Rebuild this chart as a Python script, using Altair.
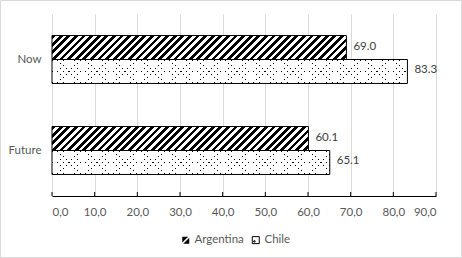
import altair as alt
import pandas as pd

periods = ["Now", "Future"]
series_names = ["Argentina", "Chile"]
argentina_values = [69.0, 60.1]
chile_values = [83.3, 65.1]
x_ticks = [0, 10, 20, 30, 40, 50, 60, 70, 80, 90]

df = pd.DataFrame({
    "period": periods * 2,
    "series": ["Argentina"] * len(periods) + ["Chile"] * len(periods),
    "value": argentina_values + chile_values,
})
df["key"] = df["period"] + "|" + df["series"]

PLOT_W, PLOT_H = 384, 182
X_MAX = 90
PAD_IN = 0.473
PAD_OUT = PAD_IN / 2
step = PLOT_H / (len(periods) - PAD_IN + 2 * PAD_OUT)
BAR_H = step * (1 - PAD_IN) / len(series_names)
FONT = "Lato"
GRAY = "#595959"


def stripe_gradient(W, H, period, width, ink, paper, direction, phase=0.0):
    L = W + H
    stops = [{"offset": 0, "color": paper}]
    c = phase
    while c - width / 2 <= L:
        a = min(max((c - width / 2) / L, 0), 1)
        b = min(max((c + width / 2) / L, 0), 1)
        if b > a:
            stops += [
                {"offset": a, "color": paper},
                {"offset": a, "color": ink},
                {"offset": b, "color": ink},
                {"offset": b, "color": paper},
            ]
        c += period
    stops.append({"offset": 1, "color": paper})
    s = (W + H) * W / (W * W + H * H)
    if direction == "/":
        return {"gradient": "linear", "x1": 0, "y1": 0, "x2": s, "y2": s * H / W, "stops": stops}
    return {"gradient": "linear", "x1": 0, "y1": 1, "x2": s, "y2": 1 - s * H / W, "stops": stops}


x_enc = alt.X(
    "value:Q",
    scale=alt.Scale(domain=[0, X_MAX], nice=False, zero=True),
    axis=alt.Axis(
        values=x_ticks,
        labelExpr="replace(format(datum.value, '.1f'), '.', ',')",
        title=None,
        grid=True,
        gridColor="#d9d9d9",
        gridWidth=1,
        domainColor="black",
        domainWidth=1,
        ticks=False,
        labelPadding=10,
        labelColor=GRAY,
        labelFontSize=11.5,
        labelFont=FONT,
    ),
)
y_enc = alt.Y(
    "period:N",
    sort=periods,
    scale=alt.Scale(domain=periods, paddingInner=PAD_IN, paddingOuter=PAD_OUT),
    axis=alt.Axis(title=None, ticks=False, domain=False, grid=False, labelPadding=11,
                  labelColor=GRAY, labelFontSize=11.5, labelFont=FONT),
)
yoff = alt.YOffset(
    "series:N",
    sort=series_names,
    scale=alt.Scale(domain=series_names, paddingInner=0, paddingOuter=0),
)

base = alt.Chart(df)
layers = []

# outer frame of the chart area
frame = alt.Chart(pd.DataFrame({"f": [0]})).mark_rect(
    fill="white", fillOpacity=0, stroke="#d9d9d9", strokeWidth=1
).encode(
    x=alt.value(-51.5), x2=alt.value(PLOT_W + 25.5),
    y=alt.value(-13.5), y2=alt.value(PLOT_H + 61.5),
)
layers.append(frame)

for _, row in df.iterrows():
    W = row["value"] / X_MAX * PLOT_W
    H = BAR_H
    sel = base.transform_filter(alt.datum.key == row["key"])
    if row["series"] == "Argentina":
        g = stripe_gradient(W, H, 7.6, 3.8, "black", "white", "/", phase=2.0)
        layers.append(sel.mark_bar(fill=g, stroke="black", strokeWidth=1).encode(x=x_enc, y=y_enc, yOffset=yoff))
    else:
        g1 = stripe_gradient(W, H, 5.6, 1.3, "black", "white", "/", phase=1.0)
        g2 = stripe_gradient(W, H, 5.6, 1.3, "rgba(255,255,255,0)", "white", "\\", phase=1.0)
        layers.append(sel.mark_bar(fill=g1, strokeWidth=0).encode(x=x_enc, y=y_enc, yOffset=yoff))
        layers.append(sel.mark_bar(fill=g2, stroke="black", strokeWidth=1).encode(x=x_enc, y=y_enc, yOffset=yoff))

# inside tick marks on the value axis
ticks = alt.Chart(pd.DataFrame({"tick": x_ticks})).mark_rule(color="black", strokeWidth=1).encode(
    x=alt.X("tick:Q"), y=alt.value(PLOT_H - 4), y2=alt.value(PLOT_H)
)
layers.append(ticks)

labels = base.mark_text(align="left", baseline="middle", dx=7, dy=-1, color="#404040",
                        fontSize=11.5, font=FONT).encode(
    x=x_enc, y=y_enc, yOffset=yoff, text=alt.Text("value:Q", format=".1f")
)
layers.append(labels)

ARG_PATH = "M-1,-1L0.7,-1L-1,0.7Z M1,-0.7L1,1L-0.7,1Z"
CHI_PATH = "M-1,-1H1V1H-1Z M-0.55,0.2H-0.2V0.55H-0.55Z"
legend = alt.Legend(
    orient="none", legendX=128, legendY=220, direction="horizontal", title=None,
    symbolSize=49, symbolStrokeWidth=1, labelFont=FONT, labelFontSize=11.5,
    labelColor=GRAY, labelOffset=3, columnPadding=6, padding=0,
)
legend_layer = base.transform_filter("false").mark_point(filled=True, size=49, strokeWidth=1, opacity=1).encode(
    x=x_enc, y=y_enc,
    fill=alt.Fill("series:N", scale=alt.Scale(domain=series_names, range=["black", "white"]), legend=legend),
    stroke=alt.Stroke("series:N", scale=alt.Scale(domain=series_names, range=["transparent", "black"]), legend=legend),
    shape=alt.Shape("series:N", scale=alt.Scale(domain=series_names, range=[ARG_PATH, CHI_PATH]), legend=legend),
)
layers.append(legend_layer)

chart = alt.layer(*layers).properties(
    width=PLOT_W, height=PLOT_H,
    padding={"left": 52, "top": 14, "right": 26, "bottom": 62},
    autosize=alt.AutoSizeParams(type="none"),
    background="white",
).configure_view(stroke=None)

chart.save("out.html", embed_options={"renderer": "svg", "actions": False})
